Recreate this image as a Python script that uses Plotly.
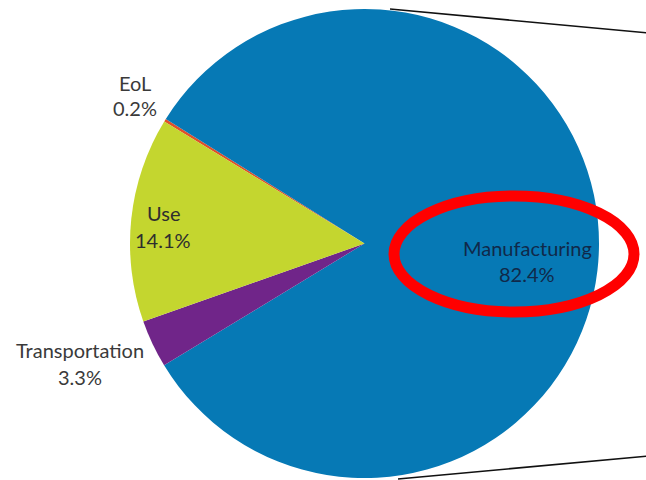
import plotly.graph_objects as go

W, H = 646, 480

# Data (clockwise order starting at the EoL/Use boundary)
labels = ["EoL", "Manufacturing", "Transportation", "Use"]
values = [0.2, 82.4, 3.3, 14.1]
colors = ["#E0502A", "#0679B5", "#702589", "#C4D62F"]
pct_text = ["0.2%", "82.4%", "3.3%", "14.1%"]

# label placement in pixels (centre x, name line y, percent line y)
label_pos = {
    "EoL": (135, 83, 108),
    "Manufacturing": (527, 248, 274),
    "Transportation": (80, 350, 377),
    "Use": (163, 213, 240),
}
label_color = {
    "EoL": "#3a3a3a",
    "Manufacturing": "#10294A",
    "Transportation": "#3a3a3a",
    "Use": "#2e2e2e",
}

cx, cy, r = 364.5, 243.5, 234.5

def px(x):
    return x / W

def py(y):
    return 1 - y / H

fig = go.Figure(go.Pie(
    labels=labels,
    values=values,
    marker=dict(colors=colors, line=dict(width=0)),
    sort=False,
    direction="clockwise",
    rotation=-58.65,
    textinfo="none",
    hoverinfo="label+percent",
    showlegend=False,
    domain=dict(x=[px(cx - r), px(cx + r)], y=[py(cy + r), py(cy - r)]),
))

annotations = []
fnt = "Lato, 'Open Sans', sans-serif"
for lab, pt in zip(labels, pct_text):
    x, y1, y2 = label_pos[lab]
    for txt, yy in ((lab, y1), (pt, y2)):
        annotations.append(dict(
            text=txt, x=px(x), y=py(yy), xref="paper", yref="paper",
            xanchor="center", yanchor="middle", showarrow=False,
            font=dict(family=fnt, size=20, color=label_color[lab]),
        ))

shapes = [
    # connector lines
    dict(type="line", xref="paper", yref="paper",
         x0=px(390), y0=py(9), x1=px(648), y1=py(33),
         line=dict(color="#111111", width=1.6)),
    dict(type="line", xref="paper", yref="paper",
         x0=px(398), y0=py(479), x1=px(648), y1=py(456),
         line=dict(color="#111111", width=1.6)),
    # red highlight ellipse
    dict(type="circle", xref="paper", yref="paper",
         x0=px(394), x1=px(634), y0=py(312), y1=py(196),
         line=dict(color="#FF0000", width=11)),
]

fig.update_layout(
    width=W, height=H,
    margin=dict(l=0, r=0, t=0, b=0),
    paper_bgcolor="white",
    plot_bgcolor="white",
    annotations=annotations,
    shapes=shapes,
)

fig.write_html("out.html")
